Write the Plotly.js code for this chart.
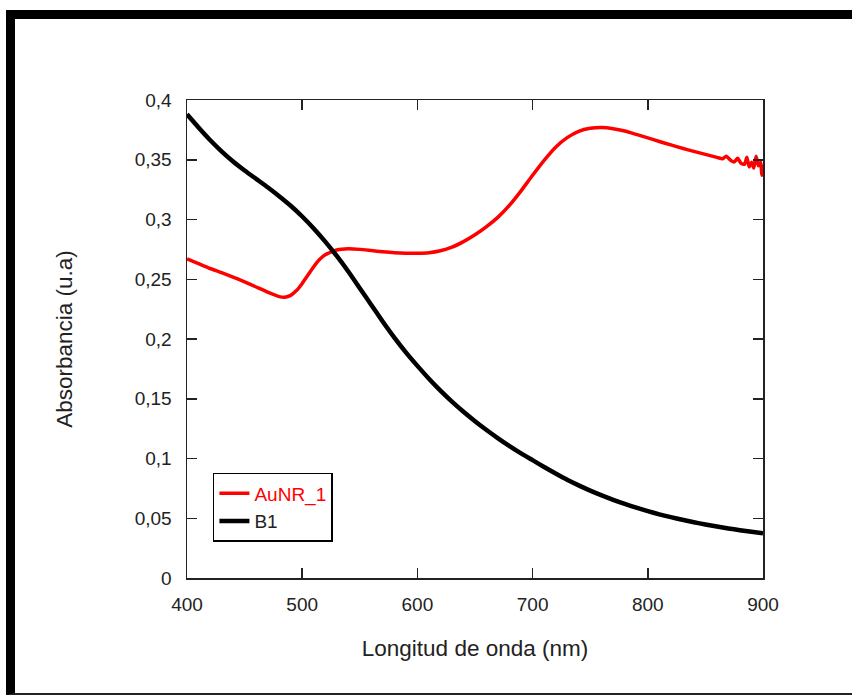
<!DOCTYPE html>
<html>
<head>
<meta charset="utf-8">
<script src="https://cdn.plot.ly/plotly-3.0.1.min.js"></script>
<style>
html,body{margin:0;padding:0;background:#fff;}
#wrap{position:relative;width:852px;height:695px;overflow:hidden;}
#chart{position:absolute;left:0;top:0;width:852px;height:695px;}
#frame{position:absolute;left:6px;top:10px;width:860px;height:674px;border-top:9px solid #000;border-left:9px solid #000;border-bottom:2px solid #222;pointer-events:none;}
</style>
</head>
<body>
<div id="wrap">
<div id="chart"></div>
<div id="frame"></div>
</div>
<script>
// Wavelengths (nm) and absorbance values
const b1Wavelength = [400,410,420,430,440,450,460,470,480,490,500,510,520,530,540,550,560,570,580,590,600,610,620,630,640,650,660,670,680,690,700,710,720,730,740,750,760,770,780,790,800,810,820,830,840,850,860,870,880,890,900];
const b1Absorbance = [0.388,0.377,0.3665,0.357,0.3485,0.341,0.334,0.327,0.3195,0.3115,0.3025,0.2925,0.2815,0.2695,0.2565,0.2425,0.2285,0.2145,0.2012,0.1888,0.1775,0.1668,0.1568,0.1476,0.1391,0.1312,0.1238,0.1169,0.1104,0.1043,0.0986,0.0929,0.0874,0.0822,0.0775,0.0731,0.0691,0.0654,0.0620,0.0589,0.0560,0.0533,0.0509,0.0487,0.0467,0.0448,0.0431,0.0415,0.0400,0.0387,0.0375];

const aunrWavelength = [400,410,420,430,440,450,460,470,480,485,490,495,500,505,510,515,520,530,540,550,560,570,580,590,600,610,620,630,640,650,660,670,680,690,700,710,720,730,740,750,760,770,780,790,800,810,820,830,840,850,855,860,865,868,872,875,878,881,884,886,888,890,892,894,896,898,899,900];
const aunrAbsorbance = [0.267,0.263,0.259,0.2555,0.2518,0.2478,0.2435,0.2392,0.2355,0.2350,0.2365,0.2405,0.2465,0.2535,0.2605,0.2665,0.2705,0.2745,0.2755,0.2750,0.2740,0.2730,0.2722,0.2718,0.2718,0.2722,0.2738,0.2768,0.2815,0.2872,0.2940,0.3020,0.3120,0.3240,0.3370,0.3495,0.3605,0.3685,0.3738,0.3763,0.3770,0.3760,0.3740,0.3712,0.3683,0.3653,0.3624,0.3596,0.3570,0.3545,0.3532,0.3520,0.3508,0.3530,0.3495,0.3482,0.3512,0.3470,0.3462,0.3520,0.3440,0.3480,0.3430,0.3530,0.3450,0.3480,0.3370,0.3460];

const xTickVals = [400,500,600,700,800,900];
const xTickText = ['400','500','600','700','800','900'];
const yTickVals = [0,0.05,0.1,0.15,0.2,0.25,0.3,0.35,0.4];
const yTickText = ['0','0,05','0,1','0,15','0,2','0,25','0,3','0,35','0,4'];

const traces = [
  {x: aunrWavelength, y: aunrAbsorbance, type: 'scatter', mode: 'lines',
   name: '<span style="color:#ff0000">AuNR_1</span>',
   line: {color: '#ff0000', width: 3.5, shape: 'spline', smoothing: 0.5}},
  {x: b1Wavelength, y: b1Absorbance, type: 'scatter', mode: 'lines',
   name: 'B1', line: {color: '#000000', width: 4.5, shape: 'spline', smoothing: 0.6}}
];

const font = 'Liberation Sans, Arial, sans-serif';
const layout = {
  width: 852, height: 695,
  margin: {l: 187, r: 89, t: 100, b: 117},
  paper_bgcolor: '#ffffff', plot_bgcolor: '#ffffff',
  font: {family: font, color: '#222', size: 19},
  showlegend: true,
  legend: {x: 0.045, y: 0.22, xanchor: 'left', yanchor: 'top',
           bordercolor: '#000', borderwidth: 1.5, bgcolor: '#fff',
           font: {family: font, size: 19, color: '#222'},
           tracegroupgap: 0},
  xaxis: {range: [400, 900], tickvals: xTickVals, ticktext: xTickText,
          ticks: 'inside', ticklen: 10, tickwidth: 1.5, tickcolor: '#222',
          showline: true, linecolor: '#222', linewidth: 1.5, mirror: 'allticks',
          showgrid: false, zeroline: false, ticklabelstandoff: 9,
          tickfont: {size: 19},
          title: {text: 'Longitud de onda (nm)', font: {size: 22.5}, standoff: 26}},
  yaxis: {range: [0, 0.4], tickvals: yTickVals, ticktext: yTickText,
          ticks: 'inside', ticklen: 10, tickwidth: 1.5, tickcolor: '#222',
          showline: true, linecolor: '#222', linewidth: 1.5, mirror: 'allticks',
          showgrid: false, zeroline: false, ticklabelstandoff: 10,
          tickfont: {size: 19},
          title: {text: 'Absorbancia (u.a)', font: {size: 22.5}, standoff: 56}}
};

Plotly.newPlot('chart', traces, layout, {displayModeBar: false, staticPlot: true});
</script>
</body>
</html>
